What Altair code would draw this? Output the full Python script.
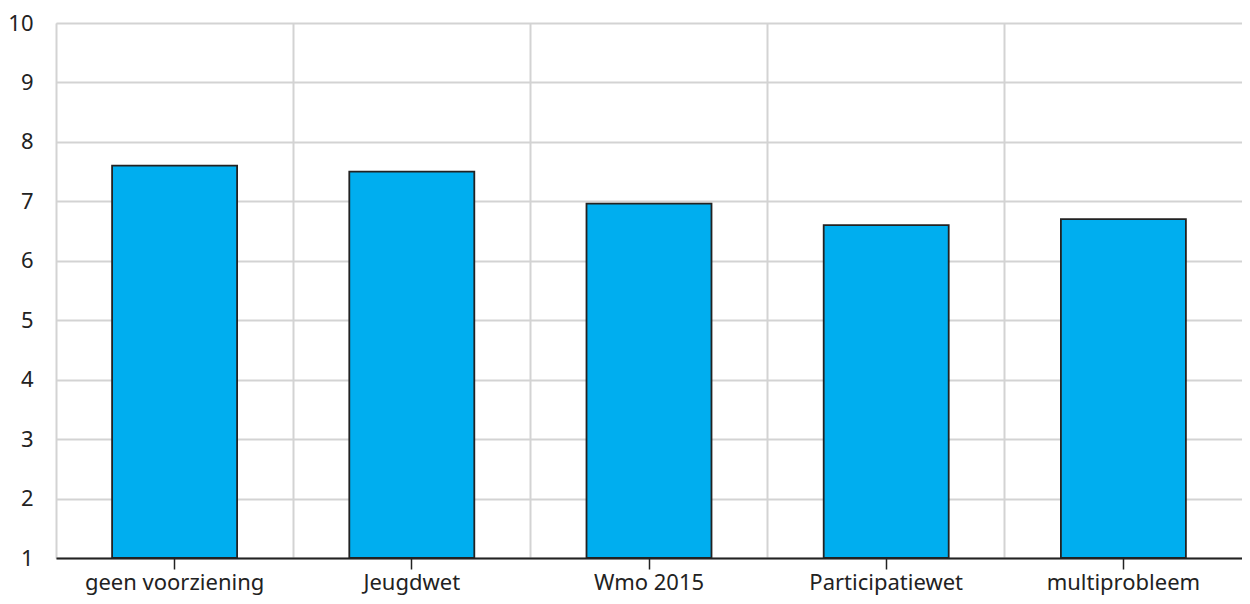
import altair as alt
import pandas as pd

categories = ["geen voorziening", "Jeugdwet", "Wmo 2015", "Participatiewet", "multiprobleem"]
values = [7.6, 7.5, 6.96, 6.6, 6.7]
y_ticks = [1, 2, 3, 4, 5, 6, 7, 8, 9, 10]

df = pd.DataFrame({"cat": categories, "val": values, "base": [1] * len(values)})

FONT = "Noto Sans"

x_scale = alt.Scale(domain=categories, paddingInner=0, paddingOuter=0)
y_scale = alt.Scale(domain=[1, 10], nice=False, zero=False)

y_axis = alt.Axis(values=y_ticks, grid=True, gridColor="#d3d3d3", gridWidth=2,
                  domain=False, ticks=False, labelFontSize=22, labelFont=FONT,
                  labelColor="#222222", labelPadding=23, title=None)

grid_layer = alt.Chart(df).mark_bar(opacity=0).encode(
    x=alt.X("cat:N", scale=x_scale, sort=categories,
            axis=alt.Axis(orient="bottom", grid=True, bandPosition=0, labels=False,
                          ticks=False, domain=False, title=None,
                          gridColor="#d3d3d3", gridWidth=2)),
    y=alt.Y("val:Q", scale=y_scale, axis=y_axis),
    y2="base:Q",
)

bars = alt.Chart(df).mark_bar(width=125, color="#00AEEF", stroke="#222222", strokeWidth=1.8).encode(
    x=alt.X("cat:N", scale=x_scale, sort=categories,
            axis=alt.Axis(orient="bottom", grid=False, domain=True, domainColor="#222222",
                          domainWidth=2, ticks=True, tickColor="#222222", tickSize=11,
                          tickWidth=1.5, labelAngle=0, labelFontSize=22, labelFont=FONT,
                          labelColor="#222222", labelPadding=3, labelLimit=0, title=None)),
    y=alt.Y("val:Q", scale=y_scale, axis=y_axis),
    y2="base:Q",
)

chart = alt.layer(grid_layer, bars).resolve_axis(x="independent").properties(
    width=1186, height=535,
    autosize=alt.AutoSizeParams(type="none"),
    padding={"left": 48, "top": 15, "right": 0, "bottom": 38},
).configure_view(stroke=None).configure(background="white")

chart.save("out.html", embed_options={"renderer": "svg", "actions": False})
